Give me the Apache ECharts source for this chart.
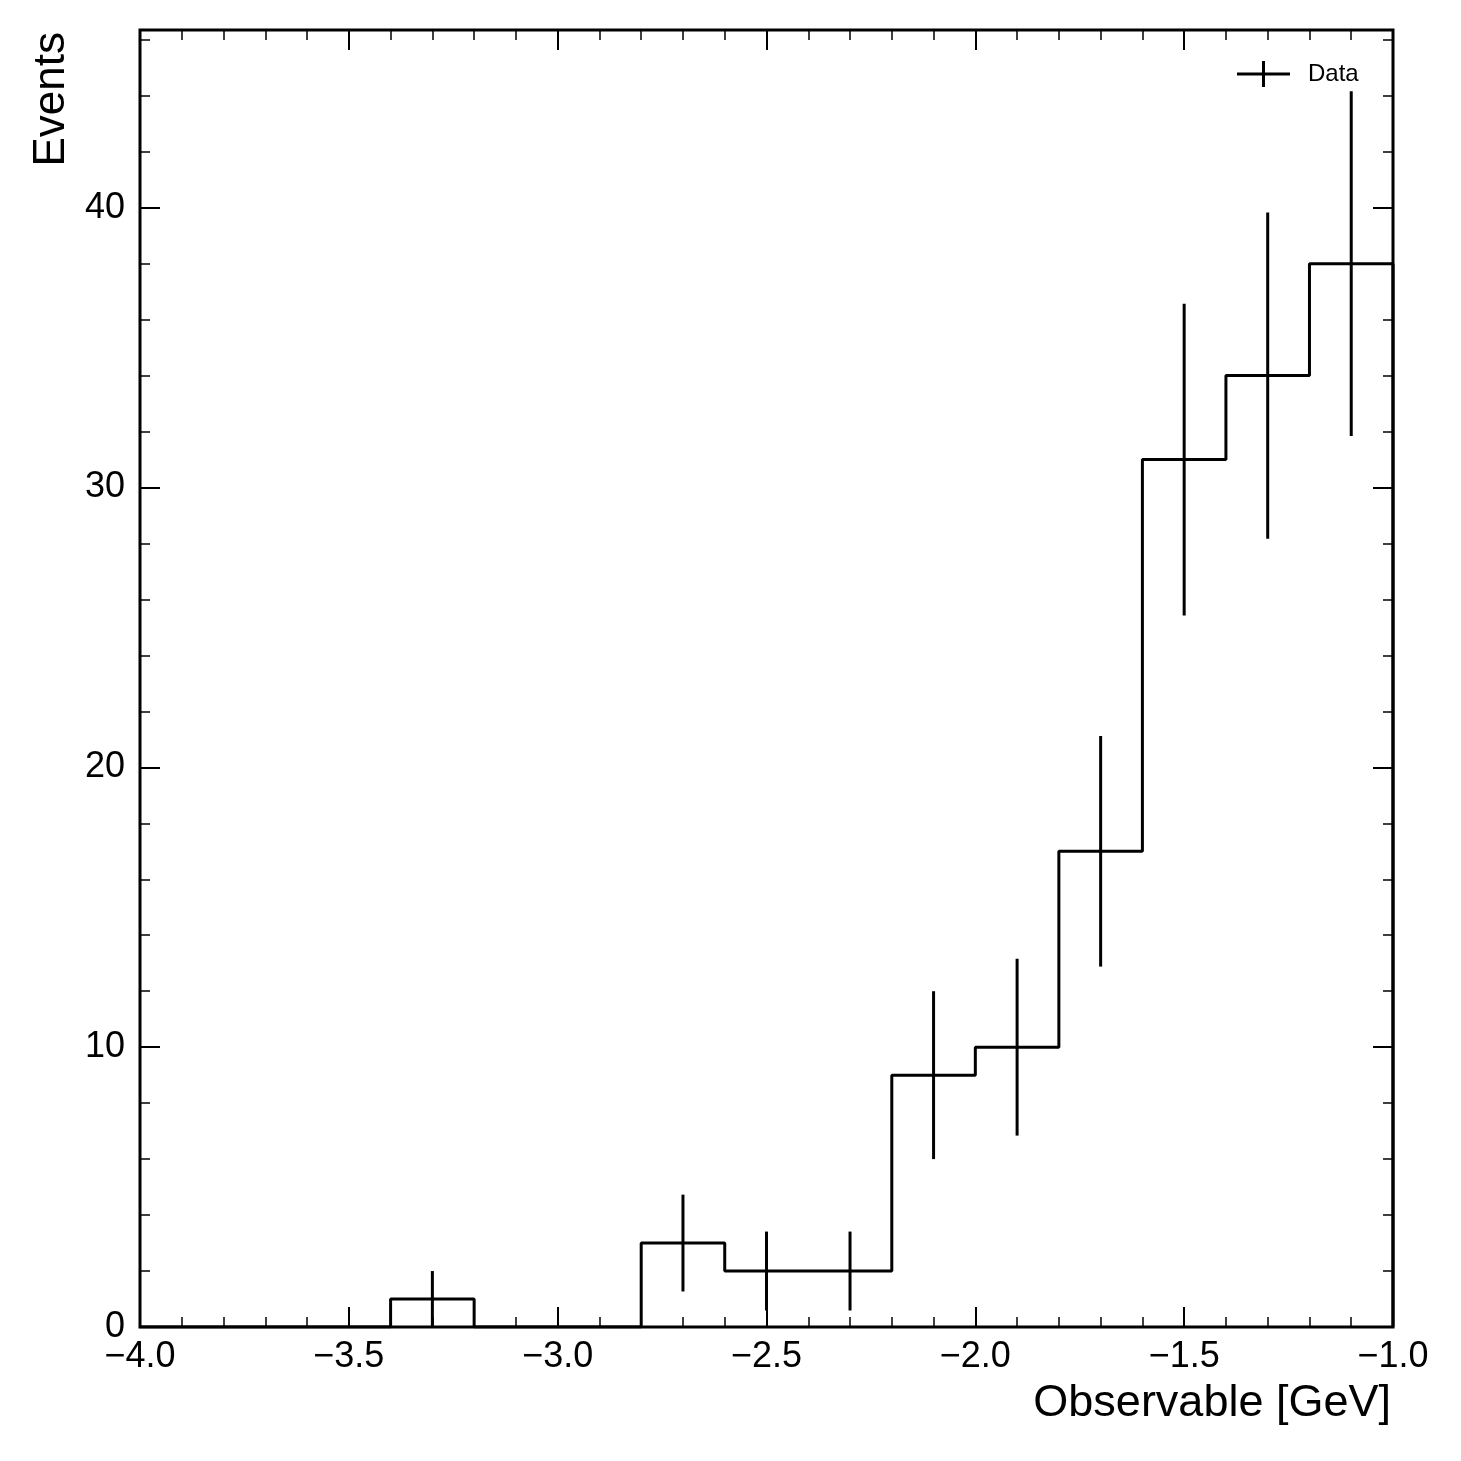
<!DOCTYPE html>
<html>
<head>
<meta charset="utf-8">
<script src="https://cdn.jsdelivr.net/npm/echarts@6/dist/echarts.min.js"></script>
<style>
html,body{margin:0;padding:0;background:#fff;}
#chart{width:1461px;height:1461px;}
</style>
</head>
<body>
<div id="chart"></div>
<script>
// ---- data ----
const binEdges = [-4.0,-3.8,-3.6,-3.4,-3.2,-3.0,-2.8,-2.6,-2.4,-2.2,-2.0,-1.8,-1.6,-1.4,-1.2,-1.0];
const counts   = [0,0,0,1,0,0,3,2,2,9,10,17,31,34,38];
const errors   = [0,0,0,1.0,0,0,1.73,1.41,1.41,3.0,3.16,4.12,5.57,5.83,6.16];
const xTicks = { min: -4.0, max: -1.0, major: 0.5, minorSplit: 5 };
const yTicks = { min: 0, max: 46.35, major: 10, minor: 2 };
const xTitle = 'Observable [GeV]';
const yTitle = 'Events';
const legendLabel = 'Data';

// ---- build series data ----
const stepData = [];
for (let i = 0; i < counts.length; i++) stepData.push([binEdges[i], counts[i]]);
stepData.push([binEdges[binEdges.length - 1], counts[counts.length - 1]]);
stepData.push([binEdges[binEdges.length - 1], 0]);

const errData = [];
for (let i = 0; i < counts.length; i++) {
  if (counts[i] > 0) errData.push([(binEdges[i] + binEdges[i + 1]) / 2, counts[i], errors[i]]);
}

const FONT = 'Liberation Sans';
const fmtMinus = v => String(v).replace('-', '\u2212');

function xAx(pos, labels) {
  return {
    type: 'value', position: pos, min: xTicks.min, max: xTicks.max, interval: xTicks.major,
    axisLine: { show: false, onZero: false },
    splitLine: { show: false },
    axisTick: { show: true, inside: true, length: 20, lineStyle: { color: '#000', width: 2 } },
    minorTick: { show: true, splitNumber: xTicks.minorSplit, length: 10, lineStyle: { color: '#000', width: 1.5 } },
    axisLabel: labels ? {
      show: true, margin: 12, fontSize: 36, color: '#000', fontFamily: FONT,
      formatter: v => fmtMinus(v.toFixed(1)), showMinLabel: true, showMaxLabel: true
    } : { show: false },
    nameMoveOverlap: false
  };
}
function yAx(pos, interval, len, width, labels) {
  return {
    type: 'value', position: pos, min: yTicks.min, max: yTicks.max, interval: interval,
    axisLine: { show: false, onZero: false },
    splitLine: { show: false },
    axisTick: { show: true, inside: true, length: len, lineStyle: { color: '#000', width: width } },
    axisLabel: labels ? {
      show: true, margin: 15, fontSize: 36, color: '#000', fontFamily: FONT,
      showMaxLabel: false,
      formatter: v => (Math.abs(v % 10) < 1e-9 ? String(v) : '')
    } : { show: false },
    nameMoveOverlap: false
  };
}

const xAxes = [xAx('bottom', true), xAx('top', false)];
Object.assign(xAxes[0], {
  name: xTitle, nameLocation: 'end', nameGap: -2,
  nameTextStyle: { fontSize: 45, color: '#000', fontFamily: FONT, align: 'right', verticalAlign: 'top', padding: [54, 0, 0, 0] }
});
const yAxes = [
  yAx('left', yTicks.major, 20, 2, true),
  yAx('left', yTicks.minor, 10, 1.5, false),
  yAx('right', yTicks.major, 20, 2, false),
  yAx('right', yTicks.minor, 10, 1.5, false)
];
Object.assign(yAxes[0], {
  name: yTitle, nameLocation: 'end', nameGap: -2, nameRotate: 90,
  nameTextStyle: { fontSize: 44, color: '#000', fontFamily: FONT, align: 'right', verticalAlign: 'bottom', padding: [0, 0, 66, 0] }
});

const chart = echarts.init(document.getElementById('chart'), null, { renderer: 'canvas' });
chart.setOption({
  backgroundColor: '#fff',
  animation: false,
  grid: { left: 140, top: 30, width: 1253, height: 1297, show: true, borderColor: '#000', borderWidth: 3, backgroundColor: 'transparent', containLabel: false, outerBoundsMode: 'none' },
  legend: {
    show: true, left: 1237, top: 61, padding: 0,
    itemWidth: 53, itemHeight: 26,
    data: [{ name: legendLabel, icon: 'path://M0,11.5H53V14.5H0Z M25,0H28V26H25Z' }],
    textStyle: { fontSize: 24, color: '#000', fontFamily: FONT, padding: [0, 0, 0, 13] },
    selectedMode: false
  },
  xAxis: xAxes,
  yAxis: yAxes,
  series: [
    {
      name: 'hist', type: 'line', step: 'end', data: stepData, symbol: 'none',
      xAxisIndex: 0, yAxisIndex: 0,
      lineStyle: { color: '#000', width: 3 }, itemStyle: { color: '#000' }, silent: true
    },
    {
      name: legendLabel, type: 'custom', data: errData, xAxisIndex: 0, yAxisIndex: 0,
      itemStyle: { color: '#000' },
      encode: { x: 0, y: 1 },
      renderItem: function (params, api) {
        const x = api.value(0), y = api.value(1), e = api.value(2);
        const p1 = api.coord([x, y - e]);
        const p2 = api.coord([x, y + e]);
        return { type: 'line', shape: { x1: p1[0], y1: p1[1], x2: p2[0], y2: p2[1] }, style: { stroke: '#000', lineWidth: 3 } };
      }
    }
  ]
});
</script>
</body>
</html>
